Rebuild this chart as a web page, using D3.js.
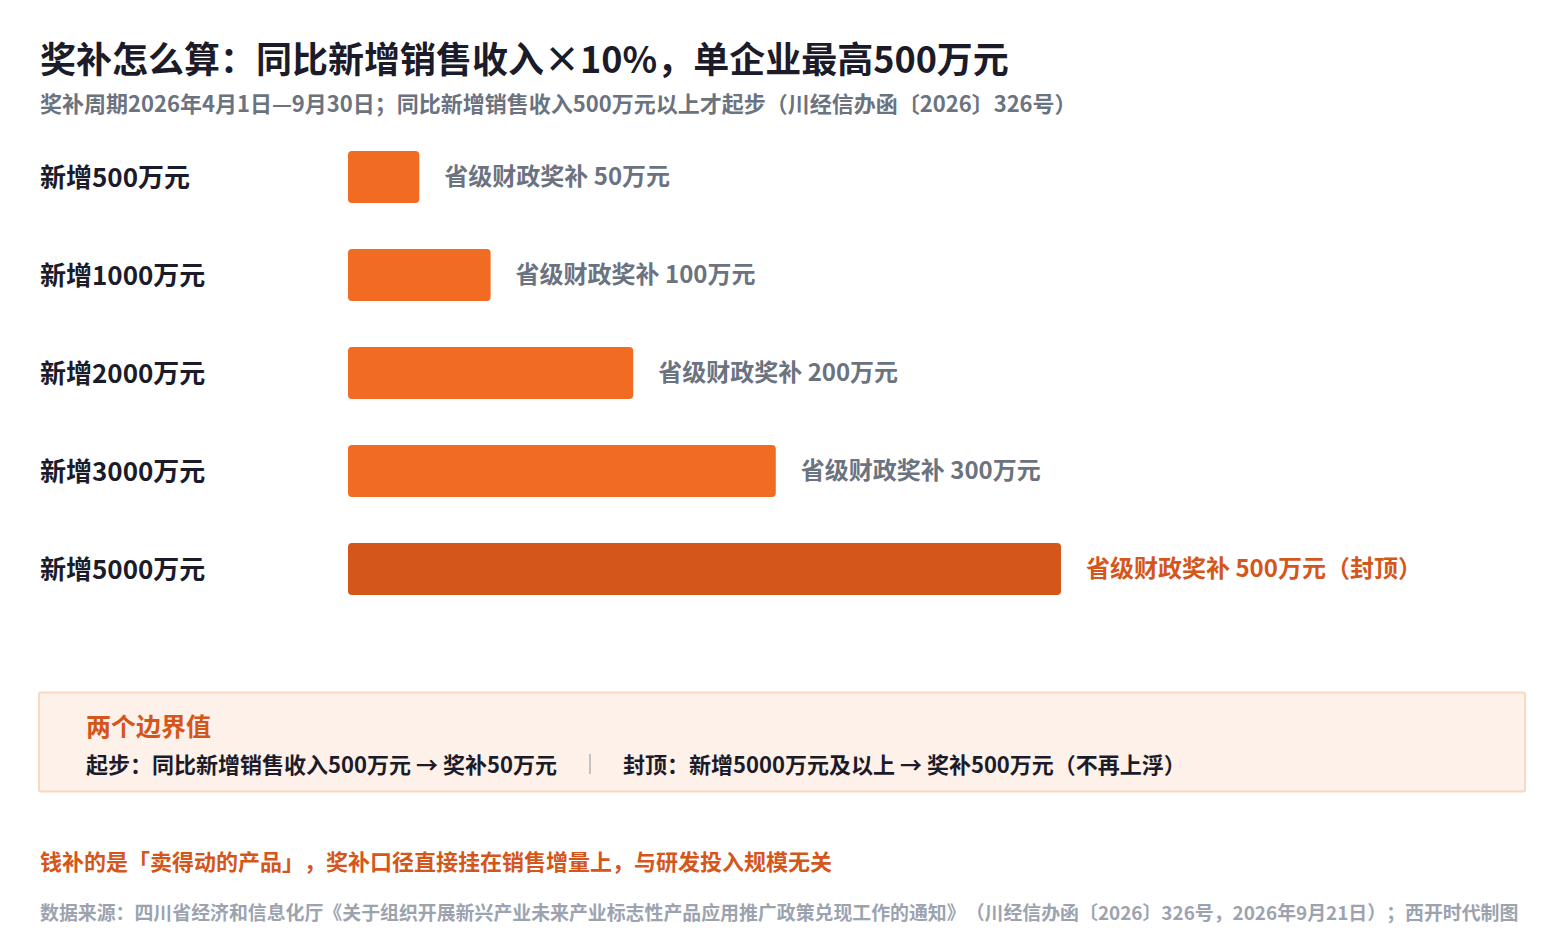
<!DOCTYPE html>
<html><head><meta charset="utf-8">
<script src="https://cdn.jsdelivr.net/npm/d3@7"></script>
<style>
html,body{margin:0;padding:0;background:#fff;}
svg{display:block;font-family:"Noto Sans CJK SC","Noto Sans",sans-serif;text-spacing-trim:space-all;}
</style></head><body>
<svg id="chart" width="1564" height="952"></svg>
<script>
const categories = ["新增500万元","新增1000万元","新增2000万元","新增3000万元","新增5000万元"];
const rewards = [50,100,200,300,500];
const valueLabels = ["省级财政奖补 50万元","省级财政奖补 100万元","省级财政奖补 200万元","省级财政奖补 300万元","省级财政奖补 500万元（封顶）"];
const capped = [false,false,false,false,true];

const title = "奖补怎么算：同比新增销售收入×10%，单企业最高500万元";
const subtitle = "奖补周期2026年4月1日—9月30日；同比新增销售收入500万元以上才起步（川经信办函〔2026〕326号）";
const boxTitle = "两个边界值";
const boxLeft = "起步：同比新增销售收入500万元 → 奖补50万元";
const boxRight = "封顶：新增5000万元及以上 → 奖补500万元（不再上浮）";
const note = "钱补的是「卖得动的产品」，奖补口径直接挂在销售增量上，与研发投入规模无关";
const source = "数据来源：四川省经济和信息化厅《关于组织开展新兴产业未来产业标志性产品应用推广政策兑现工作的通知》（川经信办函〔2026〕326号，2026年9月21日）；西开时代制图";

const svg = d3.select("#chart");

svg.append("text").attr("x",40).attr("y",73).text(title)
  .attr("font-size",36).attr("font-weight",700).attr("fill","#1c1b29");
svg.append("text").attr("x",40).attr("y",112).text(subtitle)
  .attr("font-size",22).attr("font-weight",700).attr("fill","#6b7280");

const x = d3.scaleLinear().domain([0,500]).range([348,1061]);
const y = d3.scaleBand().domain(categories).range([128,618]).paddingInner(0.47).paddingOuter(0.235);

const rows = svg.append("g").selectAll("g").data(categories).join("g");
rows.append("text").attr("x",40).attr("y",d=>y(d)+y.bandwidth()/2+1).attr("dy","0.35em")
  .text(d=>d).attr("font-size",26).attr("font-weight",700).attr("fill","#1c1b29");
rows.append("rect").attr("x",x(0)).attr("y",d=>y(d))
  .attr("width",(d,i)=>x(rewards[i])-x(0)).attr("height",y.bandwidth())
  .attr("rx",4).attr("fill",(d,i)=>capped[i]?"#d4561b":"#f26b22");
rows.append("text").attr("x",(d,i)=>x(rewards[i])+25).attr("y",d=>y(d)+y.bandwidth()/2).attr("dy","0.35em")
  .text((d,i)=>valueLabels[i]).attr("font-size",24).attr("font-weight",700)
  .attr("fill",(d,i)=>capped[i]?"#d4561b":"#6b7280");

// box
svg.append("rect").attr("x",39).attr("y",692.5).attr("width",1486).attr("height",99)
  .attr("fill","#fdf1e9").attr("stroke","#fbd8c0").attr("stroke-width",2).attr("rx",2);
svg.append("text").attr("x",86).attr("y",736).text(boxTitle)
  .attr("font-size",25).attr("font-weight",700).attr("fill","#d4561b");
svg.append("text").attr("x",86).attr("y",773).text(boxLeft)
  .attr("font-size",22).attr("font-weight",700).attr("fill","#1c1b29");
svg.append("line").attr("x1",590).attr("x2",590).attr("y1",754).attr("y2",774)
  .attr("stroke","#9ca3af").attr("stroke-width",1.2);
svg.append("text").attr("x",623).attr("y",773).text(boxRight)
  .attr("font-size",22).attr("font-weight",700).attr("fill","#1c1b29");

svg.append("text").attr("x",40).attr("y",870).text(note)
  .attr("font-size",22).attr("font-weight",700).attr("fill","#d4561b");
svg.append("text").attr("x",40).attr("y",920).text(source)
  .attr("font-size",18.9).attr("font-weight",700).attr("fill","#9ca3af");
</script></body></html>
